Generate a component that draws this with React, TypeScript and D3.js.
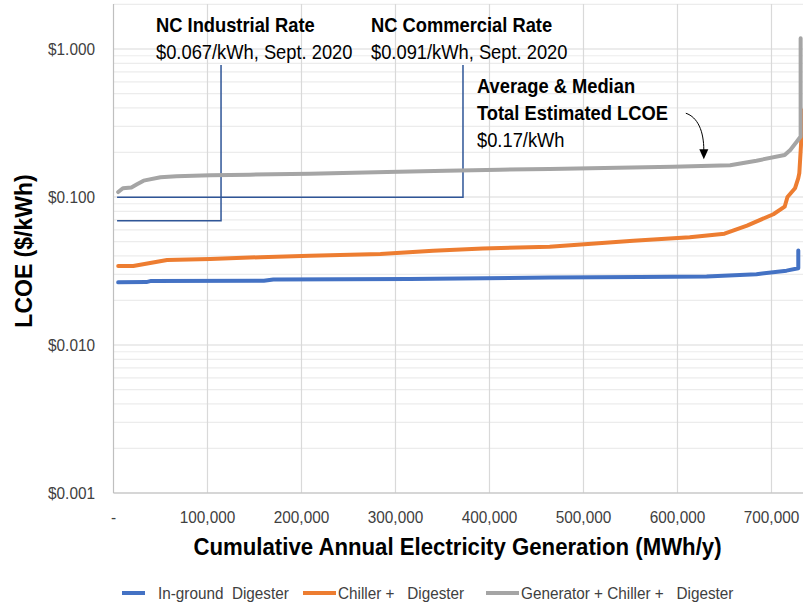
import React from "react";
import * as d3 from "d3";

// ---------- data ----------
const seriesNames = ["In-ground  Digester", "Chiller +   Digester", "Generator + Chiller +   Digester"];
const seriesColors = ["#4472C4", "#ED7D31", "#A5A5A5"];

const inGroundGen = [5000, 35000, 40000, 160000, 170000, 315000, 464000, 560000, 631000, 684000, 716000, 728500, 728500];
const inGroundLcoe = [0.0265, 0.0266, 0.0271, 0.0272, 0.0277, 0.0279, 0.0286, 0.0288, 0.029, 0.0301, 0.0318, 0.033, 0.0435];

const chillerGen = [5000, 21000, 57000, 103000, 156000, 209000, 284000, 340000, 393000, 464000, 553000, 613000, 650000, 674000, 702000, 714000, 717000, 725000, 728500, 729600, 731500, 731500];
const chillerLcoe = [0.0342, 0.0342, 0.0375, 0.0381, 0.0392, 0.0401, 0.0412, 0.0434, 0.0448, 0.0462, 0.0507, 0.0534, 0.0565, 0.064, 0.0765, 0.086, 0.1, 0.1145, 0.134, 0.145, 0.231, 0.387];

const generatorGen = [5000, 10000, 19000, 25000, 32000, 50000, 67000, 103000, 145000, 209000, 291000, 354000, 411000, 464000, 595000, 656000, 684000, 714000, 720000, 727000, 731000, 731000];
const generatorLcoe = [0.108, 0.1145, 0.116, 0.122, 0.129, 0.136, 0.138, 0.14, 0.1415, 0.1437, 0.1476, 0.1507, 0.153, 0.1545, 0.16, 0.164, 0.176, 0.192, 0.208, 0.237, 0.256, 1.18];

const xTicks = [0, 100000, 200000, 300000, 400000, 500000, 600000, 700000];
const xTickLabels = ["-", "100,000", "200,000", "300,000", "400,000", "500,000", "600,000", "700,000"];
const yTicks = [0.001, 0.01, 0.1, 1];
const yTickLabels = ["$0.001", "$0.010", "$0.100", "$1.000"];

const rateTitles = ["NC Industrial Rate", "NC Commercial Rate"];
const rateTexts = ["$0.067/kWh, Sept. 2020", "$0.091/kWh, Sept. 2020"];
const rateLevels = [0.069, 0.0995];
const rateLeaderX = [114400, 371800];
const rateLineStartX = 3800;

const avgLines = ["Average & Median", "Total Estimated LCOE", "$0.17/kWh"];
const avgArrowTip = [628000, 0.18];

const xTitle = "Cumulative Annual Electricity Generation (MWh/y)";
const yTitle = "LCOE ($/kWh)";

// ---------- layout ----------
const W = 803;
const H = 609;
const plotLeft = 113.5;
const plotTop = 4;
const plotBottom = 493;
const FONT = "'Liberation Sans', Arial, sans-serif";

type TProps = {
  x: number;
  y: number;
  sx: number;
  size: number;
  bold?: boolean;
  anchor?: string;
  fill?: string;
  children: React.ReactNode;
  dy?: string;
};
function SqText({ x, y, sx, size, bold, anchor, fill, children, dy }: TProps) {
  return (
    <text
      transform={`translate(${x},${y}) scale(${sx},1)`}
      fontSize={size}
      fontWeight={bold ? "bold" : "normal"}
      textAnchor={anchor || "start"}
      fill={fill || "#000"}
      dy={dy}
      style={{ whiteSpace: "pre" }}
    >
      {children}
    </text>
  );
}

export default function App() {
  const x = d3.scaleLinear().domain([0, 800000]).range([plotLeft, plotLeft + 8 * 94]);
  const y = d3.scaleLog().domain([0.001, 1]).range([plotBottom, 49]);

  const series = [
    d3.zip(inGroundGen, inGroundLcoe),
    d3.zip(chillerGen, chillerLcoe),
    d3.zip(generatorGen, generatorLcoe),
  ];
  const line = d3
    .line<number[]>()
    .x((d) => x(d[0]))
    .y((d) => y(d[1]))
    .curve(d3.curveLinear);

  const minor: number[] = [];
  [0.001, 0.01, 0.1, 1].forEach((dec) => {
    for (let k = 2; k <= 9; k++) {
      const v = dec * k;
      if (y(v) >= plotTop - 0.5) minor.push(v);
    }
  });

  const tip = [x(avgArrowTip[0]), y(avgArrowTip[1])];

  return (
    <svg
      width={W}
      height={H}
      style={{ position: "absolute", left: 0, top: 0, background: "#fff" }}
      fontFamily={FONT}
    >
      <defs>
        <clipPath id="plotClip">
          <rect x={plotLeft} y={plotTop - 2} width={W - plotLeft} height={plotBottom - plotTop + 2} />
        </clipPath>
      </defs>
      <rect x={0} y={0} width={W} height={H} fill="#fff" />

      {minor.map((v, i) => (
        <line key={"mn" + i} x1={plotLeft} x2={W} y1={y(v)} y2={y(v)} stroke="#ececec" strokeWidth={1.2} />
      ))}
      {yTicks.map((v, i) => (
        <line key={"mj" + i} x1={plotLeft} x2={W} y1={y(v)} y2={y(v)} stroke="#d9d9d9" strokeWidth={1.2} />
      ))}
      {xTicks.slice(1).map((v, i) => (
        <line key={"vg" + i} x1={x(v)} x2={x(v)} y1={plotTop} y2={plotBottom} stroke="#d9d9d9" strokeWidth={1.2} />
      ))}

      <line x1={plotLeft} x2={plotLeft} y1={plotTop} y2={plotBottom} stroke="#bfbfbf" strokeWidth={1.2} />
      <line x1={plotLeft} x2={W} y1={plotBottom} y2={plotBottom} stroke="#bfbfbf" strokeWidth={1.2} />

      {yTicks.map((v, i) => (
        <SqText key={"yt" + i} x={95} y={y(v)} dy="0.36em" sx={0.96} size={16} anchor="end" fill="#404040">
          {yTickLabels[i]}
        </SqText>
      ))}
      {xTicks.map((v, i) => (
        <SqText key={"xt" + i} x={x(v)} y={523} sx={0.96} size={16} anchor="middle" fill="#404040">
          {xTickLabels[i]}
        </SqText>
      ))}

      <SqText x={457.5} y={555} sx={0.965} size={23} bold anchor="middle">
        {xTitle}
      </SqText>
      <text
        transform={`translate(32,251) rotate(-90)`}
        textAnchor="middle"
        fontSize={23}
        fontWeight="bold"
        fill="#000"
      >
        {yTitle}
      </text>

      {rateLevels.map((lv, i) => (
        <path
          key={"rl" + i}
          d={`M${x(rateLeaderX[i])},65 V${y(lv)} H${x(rateLineStartX)}`}
          fill="none"
          stroke="#2F5597"
          strokeWidth={1.5}
        />
      ))}

      <g clipPath="url(#plotClip)">
        {series.map((s, i) => (
          <path
            key={"s" + i}
            d={line(s as number[][]) || ""}
            fill="none"
            stroke={seriesColors[i]}
            strokeWidth={4}
            strokeLinejoin="round"
            strokeLinecap="round"
          />
        ))}
      </g>

      {rateTitles.map((t, i) => {
        const tx = i === 0 ? 156 : 371;
        return (
          <g key={"ra" + i}>
            <SqText x={tx} y={32} sx={0.94} size={19.5} bold>
              {t}
            </SqText>
            <SqText x={tx} y={59} sx={0.94} size={19.5}>
              {rateTexts[i]}
            </SqText>
          </g>
        );
      })}

      {avgLines.map((t, i) => (
        <SqText key={"av" + i} x={477} y={93 + i * 27} sx={0.94} size={19.5} bold={i < 2}>
          {t}
        </SqText>
      ))}
      <path
        d={`M${tip[0] - 18},${tip[1] - 46} C${tip[0] - 6},${tip[1] - 42} ${tip[0]},${tip[1] - 28} ${tip[0]},${tip[1] - 9}`}
        fill="none"
        stroke="#000"
        strokeWidth={1}
      />
      <path d={`M${tip[0] - 4.5},${tip[1] - 10} L${tip[0] + 4.5},${tip[1] - 10} L${tip[0]},${tip[1]} Z`} fill="#000" />

      {seriesNames.map((n, i) => {
        const sx0 = [122, 303, 486][i];
        const sx1 = [145, 336, 519][i];
        const tx = [158, 338, 521][i];
        return (
          <g key={"lg" + i}>
            <line x1={sx0} x2={sx1} y1={593} y2={593} stroke={seriesColors[i]} strokeWidth={4} />
            <SqText x={tx} y={599} sx={0.9} size={17} fill="#404040">
              {n}
            </SqText>
          </g>
        );
      })}
    </svg>
  );
}
